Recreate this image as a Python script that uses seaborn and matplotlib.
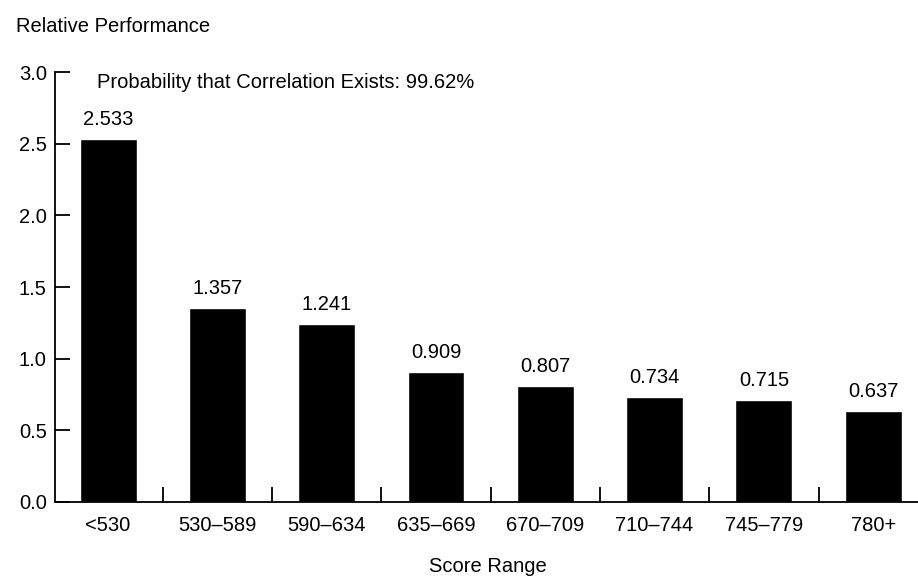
import numpy as np
import pandas as pd
import matplotlib
matplotlib.use("Agg")
import matplotlib.pyplot as plt
import seaborn as sns

# ======== DATA =========
score_ranges = ["<530", "530\u2013589", "590\u2013634", "635\u2013669",
                "670\u2013709", "710\u2013744", "745\u2013779", "780+"]
rel_perf = [2.533, 1.357, 1.241, 0.909, 0.807, 0.734, 0.715, 0.637]
value_labels = ["2.533", "1.357", "1.241", "0.909", "0.807", "0.734", "0.715", "0.637"]

df = pd.DataFrame({"score": score_ranges, "perf": rel_perf})

# ======== PLOT =========
sns.set_style("white")
plt.rcParams["font.family"] = ["Liberation Sans", "DejaVu Sans"]
plt.rcParams["text.color"] = "black"
plt.rcParams["xtick.color"] = "black"
plt.rcParams["ytick.color"] = "black"
plt.rcParams["axes.edgecolor"] = "black"

fs = 14.5

fig = plt.figure(figsize=(9.18, 5.77), dpi=100)
ax = fig.add_axes([0.06, 0.13, 0.94, 0.745])

sns.barplot(data=df, x="score", y="perf", color="black", width=0.52,
            saturation=1, ax=ax)

for i, lab in enumerate(value_labels):
    ax.text(i, rel_perf[i] + 0.07, lab, ha="center", va="bottom", fontsize=fs)

ax.set_ylim(0, 3.0)
ax.set_xlim(-0.485, 7.41)
ax.set_yticks(np.arange(0, 3.01, 0.5))
ax.set_yticklabels([f"{v:.1f}" for v in np.arange(0, 3.01, 0.5)], fontsize=fs)
ax.tick_params(axis="y", left=True, direction="in", length=11, width=1.3, pad=6)
ax.tick_params(axis="x", which="major", bottom=True, length=0, labelsize=fs, pad=10)
ax.set_xticks(np.arange(0.5, 7, 1), minor=True)
ax.tick_params(axis="x", which="minor", bottom=True, direction="in", length=11, width=1.3)

sns.despine(ax=ax)
ax.spines["left"].set_linewidth(1.3)
ax.spines["bottom"].set_linewidth(1.3)

ax.set_xlabel("")
ax.set_ylabel("")

fig.text(16 / 918, 1 - 26 / 577, "Relative Performance", ha="left", va="center", fontsize=fs)
fig.text(97 / 918, 1 - 82 / 577, "Probability that Correlation Exists: 99.62%",
         ha="left", va="center", fontsize=fs)
fig.text(488 / 918, 1 - 566 / 577, "Score Range", ha="center", va="center", fontsize=fs)

plt.savefig("out.png", dpi=100)
plt.close()
